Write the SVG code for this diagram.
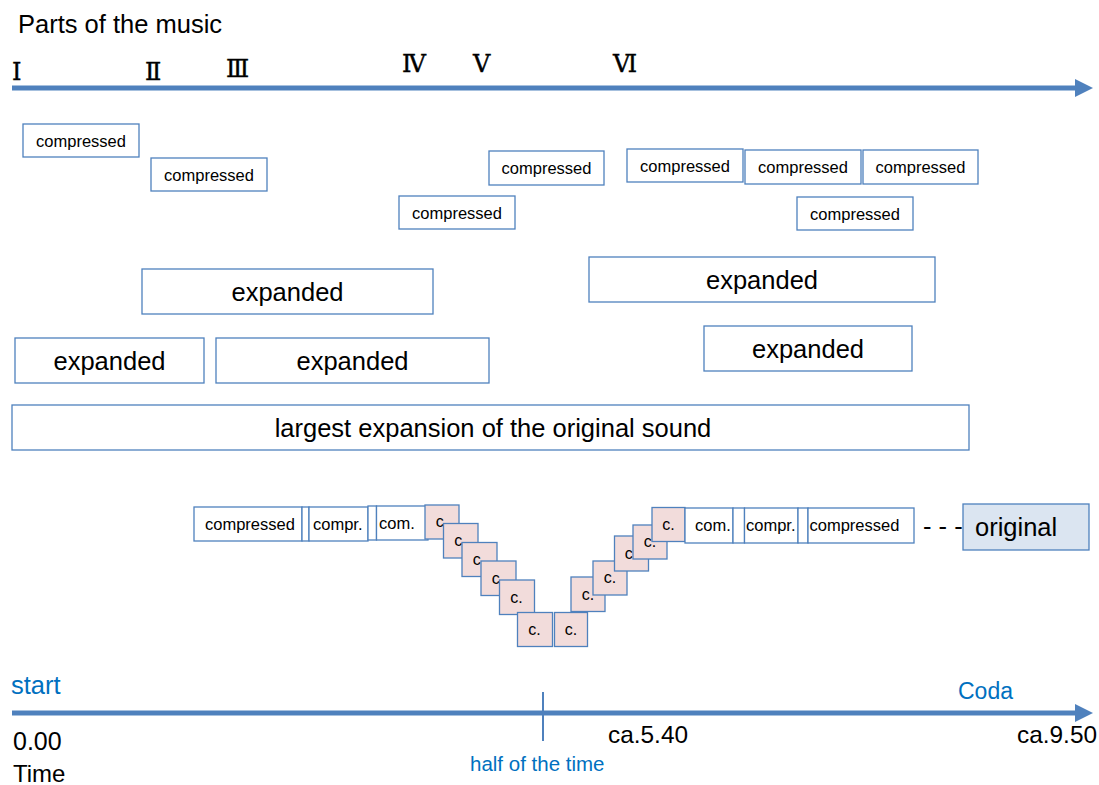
<svg xmlns="http://www.w3.org/2000/svg" width="1099" height="785" viewBox="0 0 1099 785">
<defs>
<marker id="ah" viewBox="0 0 18 18" refX="1" refY="9" markerWidth="18" markerHeight="18" markerUnits="userSpaceOnUse" orient="auto">
<path d="M0,0 L18,9 L0,18 Z" fill="#4F81BD"/>
</marker>
<style>
.bx{fill:#fff;stroke:#4F81BD;stroke-width:1.3}
.pk{fill:#F2DCDB;stroke:#4F81BD;stroke-width:1.3}
.og{fill:#DBE5F1;stroke:#4F81BD;stroke-width:1.3}
.t{font-family:"Liberation Sans",Arial,sans-serif;fill:#000}
.s{font-size:16.5px}
.l{font-size:25.5px}
.c{font-size:16px}
.m{text-anchor:middle}
.b{fill:#0070C0}
.r{font-family:"DejaVu Serif","Liberation Serif",serif;font-size:24px;fill:#000;stroke:#000;stroke-width:0.4}
.ax{stroke:#4F81BD;stroke-width:5;fill:none}
</style>
</defs>
<rect width="1099" height="785" fill="#fff"/>

<g id="title"><text class="t l" x="18" y="33">Parts of the music</text></g>

<g id="connectors">
<line class="ax" x1="12" y1="88" x2="1076" y2="88" marker-end="url(#ah)"/>
<line class="ax" x1="12" y1="713" x2="1076" y2="713" marker-end="url(#ah)"/>
<line x1="543" y1="692" x2="543" y2="741" stroke="#4F81BD" stroke-width="2"/>
</g>

<g id="numerals">
<text class="r" x="12" y="80">Ⅰ</text>
<text class="r" x="145" y="80">Ⅱ</text>
<text class="r" x="226" y="77">Ⅲ</text>
<text class="r" x="402" y="72">Ⅳ</text>
<text class="r" x="473" y="72">Ⅴ</text>
<text class="r" x="613" y="72">Ⅵ</text>
</g>

<g id="comp1"><rect class="bx" x="23" y="124" width="116" height="33"/><text class="t s m" x="81" y="146.5">compressed</text></g>
<g id="comp2"><rect class="bx" x="151" y="158" width="116" height="33"/><text class="t s m" x="209" y="180.5">compressed</text></g>
<g id="comp3"><rect class="bx" x="489" y="151" width="115" height="34"/><text class="t s m" x="546.5" y="174">compressed</text></g>
<g id="comp4"><rect class="bx" x="399" y="196" width="116" height="33"/><text class="t s m" x="457" y="218.5">compressed</text></g>
<g id="comp5"><rect class="bx" x="627" y="149" width="116" height="33"/><text class="t s m" x="685" y="171.5">compressed</text></g>
<g id="comp6"><rect class="bx" x="745" y="150" width="116" height="34"/><text class="t s m" x="803" y="173">compressed</text></g>
<g id="comp7"><rect class="bx" x="863" y="150" width="115" height="34"/><text class="t s m" x="920.5" y="173">compressed</text></g>
<g id="comp8"><rect class="bx" x="797" y="197" width="116" height="33"/><text class="t s m" x="855" y="219.5">compressed</text></g>

<g id="exp1"><rect class="bx" x="142" y="269" width="291" height="45"/><text class="t l m" x="287.5" y="300.5">expanded</text></g>
<g id="exp2"><rect class="bx" x="15" y="338" width="189" height="45"/><text class="t l m" x="109.5" y="369.5">expanded</text></g>
<g id="exp3"><rect class="bx" x="216" y="338" width="273" height="45"/><text class="t l m" x="352.5" y="369.5">expanded</text></g>
<g id="exp4"><rect class="bx" x="589" y="257" width="346" height="45"/><text class="t l m" x="762" y="288.5">expanded</text></g>
<g id="exp5"><rect class="bx" x="704" y="326" width="208" height="45"/><text class="t l m" x="808" y="357.5">expanded</text></g>
<g id="largest"><rect class="bx" x="12" y="405" width="957" height="45"/><text class="t l m" x="493" y="436.5">largest expansion of the original sound</text></g>

<g id="left-row">
<rect class="bx" x="194" y="507" width="108" height="34"/><text class="t s" x="205" y="530">compressed</text>
<rect class="bx" x="302" y="507" width="7" height="34"/>
<rect class="bx" x="309" y="507" width="59" height="34"/><text class="t s" x="313" y="530">compr.</text>
<rect class="bx" x="368" y="506" width="8.5" height="34"/>
<rect class="bx" x="376.5" y="506" width="51.5" height="34"/><text class="t s" x="379" y="529">com.</text>
</g>

<g id="c-boxes">
<rect class="pk" x="425" y="505" width="34" height="34"/><text class="t c m" x="442" y="527">c.</text>
<rect class="pk" x="443.5" y="523.5" width="34.5" height="34.5"/><text class="t c m" x="460.5" y="546">c.</text>
<rect class="pk" x="462" y="542.5" width="35" height="34"/><text class="t c m" x="479" y="565">c.</text>
<rect class="pk" x="481" y="561" width="35" height="34.5"/><text class="t c m" x="498" y="584">c.</text>
<rect class="pk" x="499.5" y="580" width="35" height="34.5"/><text class="t c m" x="516.5" y="603">c.</text>
<rect class="pk" x="517.5" y="612.5" width="35" height="34"/><text class="t c m" x="534.5" y="635">c.</text>
<rect class="pk" x="554.5" y="612.5" width="33" height="34"/><text class="t c m" x="571" y="635">c.</text>
<rect class="pk" x="571" y="577" width="34" height="34.5"/><text class="t c m" x="588" y="600">c.</text>
<rect class="pk" x="593" y="561" width="34" height="34"/><text class="t c m" x="610" y="583">c.</text>
<rect class="pk" x="614.5" y="536" width="34" height="35"/><text class="t c m" x="631" y="559">c.</text>
<rect class="pk" x="633" y="525" width="34" height="34"/><text class="t c m" x="650" y="547">c.</text>
<rect class="pk" x="652" y="507.5" width="33" height="34"/><text class="t c m" x="668.5" y="530">c.</text>
</g>

<g id="right-row">
<rect class="bx" x="685" y="508" width="48" height="35"/><text class="t s" x="695" y="531">com.</text>
<rect class="bx" x="733" y="508" width="11.5" height="35"/>
<rect class="bx" x="744.5" y="508" width="53.5" height="35"/><text class="t s" x="746" y="531">compr.</text>
<rect class="bx" x="798" y="508" width="10" height="35"/>
<rect class="bx" x="808" y="508" width="106" height="35"/><text class="t s" x="809.5" y="531">compressed</text>
</g>

<g id="dashes"><text class="t l" x="923" y="535">- - -</text></g>
<g id="original"><rect class="og" x="963" y="504" width="126" height="46"/><text class="t l" x="975" y="535.5">original</text></g>

<g id="time-labels">
<text class="t l b" x="11" y="694">start</text>
<text class="t b" x="958" y="699" style="font-size:23px">Coda</text>
<text class="t" x="13" y="750" style="font-size:25px">0.00</text>
<text class="t" x="608" y="743" style="font-size:24.4px">ca.5.40</text>
<text class="t" x="1017" y="743" style="font-size:24.4px">ca.9.50</text>
<text class="t b" x="470" y="771" style="font-size:20.5px">half of the time</text>
<text class="t" x="13" y="782" style="font-size:24px">Time</text>
</g>
</svg>
